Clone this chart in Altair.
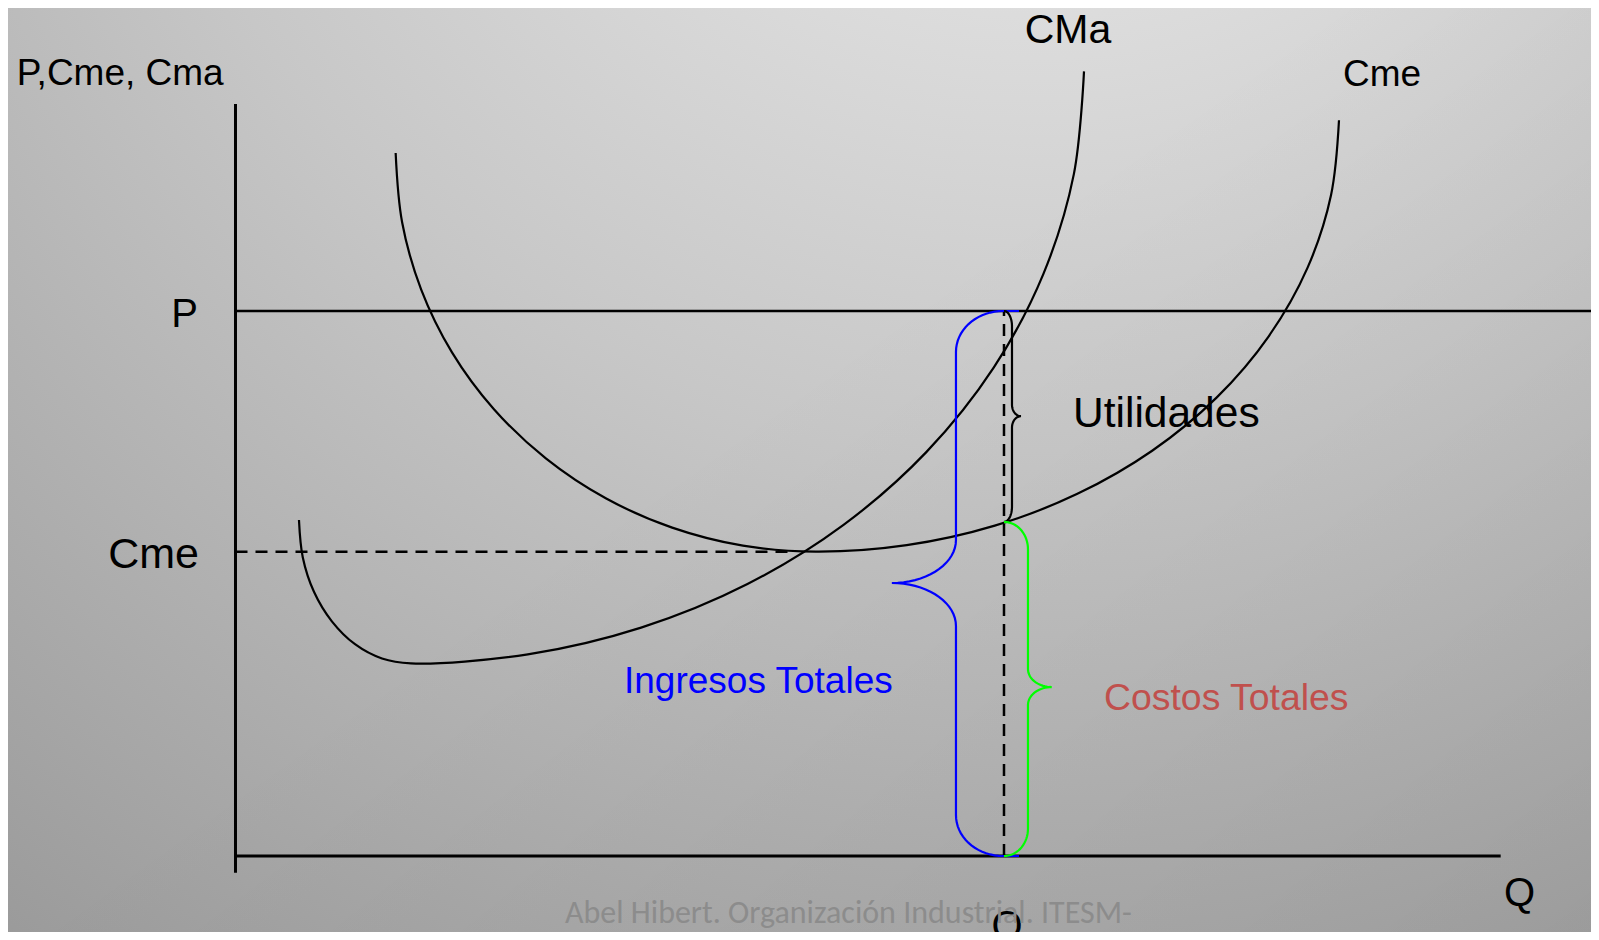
import altair as alt
import pandas as pd
import numpy as np

# ---------------- data (quantity Q on x, price / cost on y) ----------------
Q_STAR = 10.0      # chosen quantity
P_LEVEL = 10.0     # market price
CME_STAR = 6.13    # average cost at Q*
CME_MIN = 5.584    # level of dashed "Cme" guide

cme_q = [2.084, 2.168, 2.415, 2.817, 3.363, 4.038, 4.818, 5.682, 6.603, 7.551,
         8.734, 9.880, 10.955, 11.928, 12.766, 13.447, 13.949, 14.255, 14.359]
cme_c = [12.900, 11.629, 10.398, 9.242, 8.198, 7.296, 6.564, 6.025, 5.694, 5.584,
         5.703, 6.061, 6.645, 7.436, 8.411, 9.541, 10.791, 12.123, 13.499]

cma_q = [0.826, 0.875, 1.021, 1.254, 1.555, 1.906, 2.283,
         3.804, 5.278, 6.662, 7.912, 8.992, 9.868, 10.513, 10.909, 11.041]
cma_c = [6.164, 5.483, 4.848, 4.306, 3.886, 3.624, 3.535,
         3.699, 4.190, 4.990, 6.076, 7.415, 8.965, 10.682, 12.511, 14.397]

# axis / guide segments: (q0, q1, c0, c1)
axis_y = [0.0, 0.0, -0.306, 13.798]
axis_x = [0.0, 16.463, 0.0, 0.0]
price_line = [0.0, 17.70, P_LEVEL, P_LEVEL]
dash_h = [0.0, 7.28, CME_MIN, CME_MIN]
dash_v = [Q_STAR, Q_STAR, 0.0, P_LEVEL]

# braces: end q, top, bottom, spine q, cusp q, cusp c, end radius, mid radius, extension
brace_names = ["ingresos", "utilidades", "costos"]
brace_end_q = [9.99, 10.0, 10.0]
brace_top = [P_LEVEL, P_LEVEL, CME_STAR]
brace_bot = [0.0, CME_STAR, 0.0]
brace_spine = [9.375, 10.104, 10.312]
brace_cusp_q = [8.541, 10.221, 10.621]
brace_cusp_c = [5.009, 8.07, 3.10]
brace_r_end = [0.75, 0.28, 0.50]
brace_r_mid = [0.79, 0.21, 0.33]
brace_ext = [10.195, None, None]
brace_colors = ["#0000ff", "#000000", "#00ff00"]

# labels
lab_text = ["P,Cme, Cma", "CMa", "Cme", "P", "Cme", "Q", "Q", "Utilidades",
            "Ingresos Totales", "Costos Totales", "Abel Hibert. Organización Industrial. ITESM-"]
lab_q = [-2.847, 10.833, 14.919, -0.488, -0.475, 16.506, 10.039, 10.898, 5.055, 11.301, 4.288]
lab_c = [14.147, 14.923, 14.134, 9.712, 5.284, -0.917, -1.516, 7.877, 2.991, 2.679, -1.229]

# styles
lab_size = [37, 41, 37, 40, 43, 40, 40, 42.5, 37, 37.4, 32]
lab_align = ["left", "center", "center", "right", "right", "left", "center", "left", "left", "left", "left"]
lab_color = ["#000000"] * 8 + ["#0000ff", "#c0504d", "#8c8c8c"]
lab_font = ["Liberation Sans"] * 10 + ["Carlito, Lato, sans-serif"]

# ---------------- frame ----------------
W, H = 1583, 924
xs = alt.Scale(domain=[-2.9603, 17.6383], nice=False, zero=False)
ys = alt.Scale(domain=[-1.3945, 15.5596], nice=False, zero=False)


def X(f):
    return alt.X(f, type="quantitative", scale=xs, axis=None)


def Y(f):
    return alt.Y(f, type="quantitative", scale=ys, axis=None)


# background gradient (light spot at the top, darker towards the bottom corners)
bg = alt.Chart(pd.DataFrame({"a": [0]})).mark_rect(
    fill=alt.RadialGradient(
        gradient="radial",
        stops=[alt.GradientStop(color="#f4f4f4", offset=0),
               alt.GradientStop(color="#c7c7c7", offset=0.47),
               alt.GradientStop(color="#8e8e8e", offset=1)],
        x1=0.65, y1=-0.1, r1=0, x2=0.65, y2=-0.1, r2=1.25),
).encode(x=alt.value(0), x2=alt.value(W), y=alt.value(0), y2=alt.value(H))

shade = alt.Chart(pd.DataFrame({"a": [0]})).mark_rect(
    fill=alt.LinearGradient(
        gradient="linear",
        stops=[alt.GradientStop(color="rgba(0,0,0,0)", offset=0),
               alt.GradientStop(color="rgba(0,0,0,0.07)", offset=1)],
        x1=0.4, y1=0.5, x2=1, y2=1),
).encode(x=alt.value(0), x2=alt.value(W), y=alt.value(0), y2=alt.value(H))

# curves
rows = []
for name, qs, cs in [("Cme", cme_q, cme_c), ("CMa", cma_q, cma_c)]:
    for i, (q, c) in enumerate(zip(qs, cs)):
        rows.append({"curve": name, "q": q, "c": c, "i": i})
curves = alt.Chart(pd.DataFrame(rows)).mark_line(
    color="black", strokeWidth=2.2, interpolate="catmull-rom"
).encode(x=X("q"), y=Y("c"), detail="curve:N", order="i:Q")

# solid segments
solid = pd.DataFrame([axis_y, axis_x, price_line], columns=["q0", "q1", "c0", "c1"])
solid["w"] = [3, 3, 2.6]
solid_rules = alt.Chart(solid).mark_rule(color="black").encode(
    x=X("q0"), x2="q1:Q", y=Y("c0"), y2="c1:Q",
    strokeWidth=alt.StrokeWidth("w:Q", scale=None))

dashed = pd.DataFrame([dash_h, dash_v], columns=["q0", "q1", "c0", "c1"])
dashed_rules = alt.Chart(dashed).mark_rule(color="black", strokeWidth=2.5, strokeDash=[12, 8]).encode(
    x=X("q0"), x2="q1:Q", y=Y("c0"), y2="c1:Q")


# braces
def brace_points(xe, yt, yb, xsp, xc, yc, re, rm, ext, n=18):
    t = np.linspace(0, np.pi / 2, n)
    dxe = xsp - xe
    dxm = xsp - xc
    pts = []
    if ext is not None:
        pts.append((ext, yt))
    for a in t:
        pts.append((xe + dxe * np.sin(a), yt - re * (1 - np.cos(a))))
    for a in t[::-1]:
        pts.append((xc + dxm * np.sin(a), yc + rm * (1 - np.cos(a))))
    for a in t:
        pts.append((xc + dxm * np.sin(a), yc - rm * (1 - np.cos(a))))
    for a in t[::-1]:
        pts.append((xe + dxe * np.sin(a), yb + re * (1 - np.cos(a))))
    if ext is not None:
        pts.append((ext, yb))
    return pts


brows = []
for k, name in enumerate(brace_names):
    pts = brace_points(brace_end_q[k], brace_top[k], brace_bot[k], brace_spine[k],
                       brace_cusp_q[k], brace_cusp_c[k], brace_r_end[k], brace_r_mid[k], brace_ext[k])
    for i, (q, c) in enumerate(pts):
        brows.append({"brace": name, "q": q, "c": c, "i": i, "col": brace_colors[k]})
braces = alt.Chart(pd.DataFrame(brows)).mark_line(strokeWidth=2.2).encode(
    x=X("q"), y=Y("c"), detail="brace:N", order="i:Q",
    color=alt.Color("col:N", scale=None))

# labels
texts = []
for k, t in enumerate(lab_text):
    d = pd.DataFrame({"q": [lab_q[k]], "c": [lab_c[k]], "t": [t]})
    texts.append(alt.Chart(d).mark_text(
        align=lab_align[k], baseline="alphabetic", fontSize=lab_size[k],
        font=lab_font[k], color=lab_color[k]
    ).encode(x=X("q"), y=Y("c"), text="t:N"))

chart = alt.layer(bg, shade, curves, solid_rules, dashed_rules, braces, *texts).properties(
    width=W, height=H, padding=0,
    autosize=alt.AutoSizeParams(type="none"),
).configure_view(stroke=None)

chart.save("out.html", embed_options={"renderer": "svg", "actions": False})
